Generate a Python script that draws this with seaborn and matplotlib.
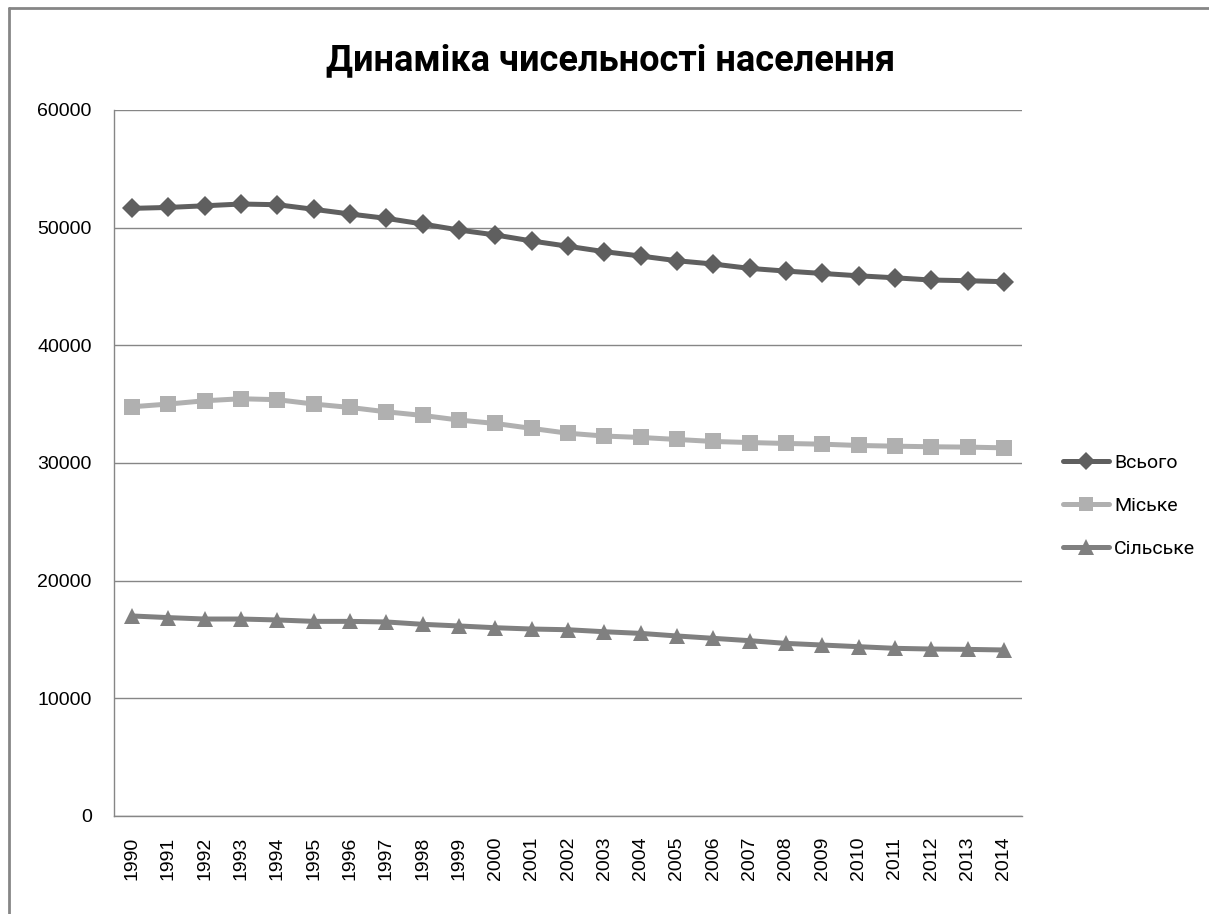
import pandas as pd
import seaborn as sns
import matplotlib
matplotlib.use('Agg')
import matplotlib.pyplot as plt
from matplotlib.lines import Line2D

# Data (thousand people)
years = [str(y) for y in range(1990, 2015)]
total = [51640, 51720, 51860, 52010, 51950, 51560, 51160, 50790, 50310, 49800,
         49380, 48870, 48420, 47960, 47590, 47190, 46910, 46540, 46310, 46110,
         45910, 45740, 45550, 45490, 45410]
urban = [34780, 35010, 35290, 35460, 35380, 35010, 34720, 34350, 34040, 33650,
         33360, 32940, 32530, 32290, 32170, 32000, 31830, 31740, 31660, 31600,
         31490, 31430, 31380, 31350, 31290]
rural = [17000, 16860, 16740, 16740, 16660, 16540, 16540, 16490, 16290, 16150,
         16000, 15890, 15830, 15660, 15520, 15300, 15100, 14900, 14670, 14530,
         14390, 14250, 14190, 14160, 14110]
series_names = ["Всього", "Міське", "Сільське"]
title = "Динаміка чисельності населення"

df = pd.DataFrame({"pos": range(len(years)), "Всього": total,
                   "Міське": urban, "Сільське": rural})
long_df = df.melt(id_vars="pos", var_name="series", value_name="value")

sns.set_style("white")
plt.rcParams['font.family'] = ['Liberation Sans', 'DejaVu Sans']
plt.rcParams['text.color'] = 'black'
plt.rcParams['xtick.color'] = 'black'
plt.rcParams['ytick.color'] = 'black'

palette = {"Всього": "#5f5f5f", "Міське": "#b0b0b0", "Сільське": "#808080"}
markers = {"Всього": "D", "Міське": "s", "Сільське": "^"}
msizes = {"Всього": 10, "Міське": 11, "Сільське": 12}

fig = plt.figure(figsize=(12.09, 9.14), dpi=100)
ax = fig.add_axes([114/1209, 1 - 816/914, (1022 - 114)/1209, (816 - 110)/914])

for name in series_names:
    sub = long_df[long_df["series"] == name]
    sns.lineplot(data=sub, x="pos", y="value", ax=ax, color=palette[name],
                 marker=markers[name], markersize=msizes[name],
                 markeredgewidth=0, linewidth=3.6, label=name, legend=False)

ax.set_xlim(-0.5, len(years) - 0.5)
ax.set_ylim(0, 60000)
ax.set_yticks(range(0, 60001, 10000))
ax.set_xticks(range(len(years)))
ax.set_xticklabels(years, rotation=90, fontsize=14)
ax.tick_params(axis='y', labelsize=14, length=0, pad=16)
ax.tick_params(axis='x', length=0, pad=15)
ax.set_xlabel("")
ax.set_ylabel("")
ax.grid(axis='y', color='#868686', linewidth=1)
ax.set_axisbelow(True)
for side in ['top', 'right']:
    ax.spines[side].set_visible(False)
for side in ['left', 'bottom']:
    ax.spines[side].set_color('#868686')
    ax.spines[side].set_linewidth(1)

fig.text(0.505, 1 - 60/914, title, ha='center', va='center', fontsize=26,
         fontweight='bold', color='black', family=['Roboto', 'DejaVu Sans'])

handles = [Line2D([], [], color=palette[n], marker=markers[n], markersize=msizes[n] - 1,
                  markeredgewidth=0, linewidth=3.6) for n in series_names]
ax.legend(handles, series_names, loc='center left', bbox_to_anchor=(1053/1209, 1 - 506/914),
          bbox_transform=fig.transFigure, frameon=False, borderpad=0, handlelength=2.4,
          handletextpad=0.25, labelspacing=1.3, prop={'family': ['Roboto', 'DejaVu Sans'], 'size': 14})

# outer chart-area frame (left and top edges visible)
fig.add_artist(Line2D([9/1209, 9/1209], [0, 1 - 8/914], color='#868686', linewidth=2))
fig.add_artist(Line2D([9/1209, 1], [1 - 8/914, 1 - 8/914], color='#868686', linewidth=2))

fig.savefig("out.png", dpi=100)
